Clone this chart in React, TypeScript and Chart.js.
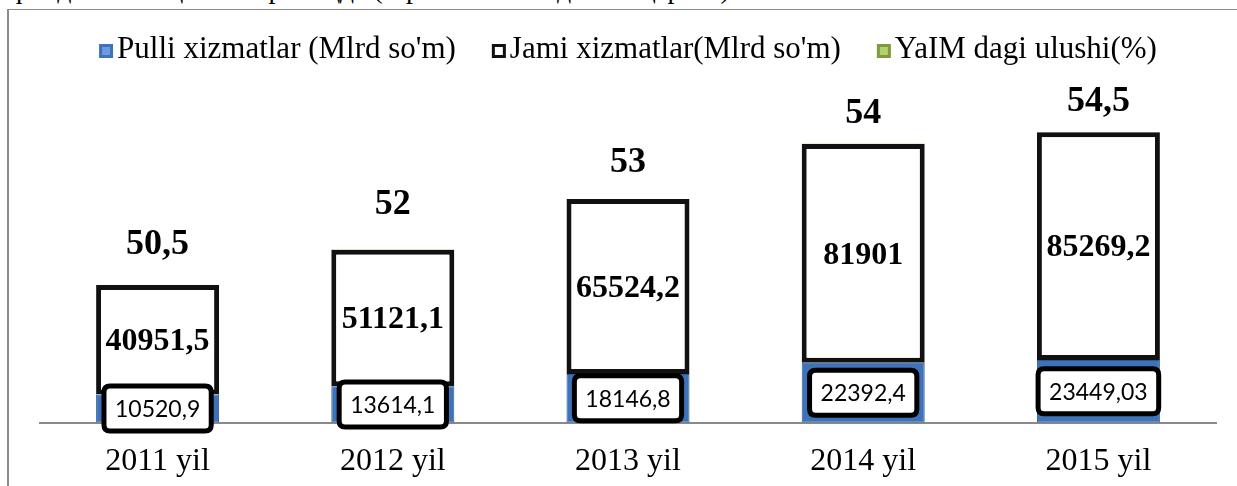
import { useEffect, useRef } from 'react';
import { Chart, registerables } from 'chart.js';

Chart.register(...registerables);

const categories = ['2011 yil', '2012 yil', '2013 yil', '2014 yil', '2015 yil'];
const pulliValues = [10520.9, 13614.1, 18146.8, 22392.4, 23449.03];
const jamiValues = [40951.5, 51121.1, 65524.2, 81901, 85269.2];
const yaimValues = [50.5, 52, 53, 54, 54.5];
const seriesNames = ['Pulli xizmatlar (Mlrd so\'m)', 'Jami xizmatlar(Mlrd so\'m)', 'YaIM dagi ulushi(%)'];
const yaimLabelOffsets = [40, 45, 36, 30, 30];

const SERIF = '"Liberation Serif", "Times New Roman", serif';
const fmt = (v: number) => String(v).replace('.', ',');

const BLUE = '#3c73bb';
const GREEN = '#9bbb59';

function roundRect(ctx: CanvasRenderingContext2D, x: number, y: number, w: number, h: number, r: number) {
  ctx.beginPath();
  ctx.moveTo(x + r, y);
  ctx.lineTo(x + w - r, y);
  ctx.quadraticCurveTo(x + w, y, x + w, y + r);
  ctx.lineTo(x + w, y + h - r);
  ctx.quadraticCurveTo(x + w, y + h, x + w - r, y + h);
  ctx.lineTo(x + r, y + h);
  ctx.quadraticCurveTo(x, y + h, x, y + h - r);
  ctx.lineTo(x, y + r);
  ctx.quadraticCurveTo(x, y, x + r, y);
  ctx.closePath();
}

const legendPlugin = {
  id: 'customLegend',
  afterDraw(chart: any) {
    const ctx: CanvasRenderingContext2D = chart.ctx;
    ctx.save();
    ctx.font = `31px ${SERIF}`;
    const box = 14;
    const gapBoxText = 4;
    const itemGap = 36;
    const widths = seriesNames.map((n) => ctx.measureText(n).width);
    const total = widths.reduce((a, b) => a + b, 0) + seriesNames.length * (box + gapBoxText) + itemGap * (seriesNames.length - 1);
    const cx = (chart.chartArea.left + chart.chartArea.right) / 2;
    let x = cx - total / 2;
    const yc = 50;
    seriesNames.forEach((name, i) => {
      const by = yc - box / 2 + 1;
      if (i === 0) {
        ctx.fillStyle = BLUE;
        ctx.fillRect(x, by, box, box);
        ctx.fillStyle = '#6b9be0';
        ctx.fillRect(x + 3, by + 3, box - 6, box - 6);
      } else if (i === 1) {
        ctx.fillStyle = '#111';
        ctx.fillRect(x, by, box, box);
        ctx.fillStyle = '#fff';
        ctx.fillRect(x + 3, by + 3, box - 6, box - 6);
      } else {
        ctx.fillStyle = '#7f9a3e';
        ctx.fillRect(x, by, box, box);
        ctx.fillStyle = '#b3d16a';
        ctx.fillRect(x + 3, by + 3, box - 6, box - 6);
      }
      ctx.fillStyle = '#000';
      ctx.textBaseline = 'middle';
      ctx.textAlign = 'left';
      ctx.fillText(name, x + box + gapBoxText, yc);
      x += box + gapBoxText + widths[i] + itemGap;
    });
    ctx.restore();
  },
};

const labelsPlugin = {
  id: 'valueLabels',
  afterDatasetsDraw(chart: any) {
    const ctx: CanvasRenderingContext2D = chart.ctx;
    ctx.save();
    ctx.textAlign = 'center';
    ctx.textBaseline = 'middle';
    // Pulli labels: boxed, sans
    chart.getDatasetMeta(0).data.forEach((el: any, i: number) => {
      const { x, y, base } = el.getProps(['x', 'y', 'base'], true);
      const cy = (y + base) / 2;
      const text = fmt(pulliValues[i]);
      ctx.font = '23px Lato, "Open Sans", sans-serif';
      const w = ctx.measureText(text).width + 22;
      const h = 45;
      roundRect(ctx, x - w / 2, cy - h / 2, w, h, 6);
      ctx.fillStyle = '#fff';
      ctx.fill();
      ctx.lineWidth = 5;
      ctx.strokeStyle = '#000';
      ctx.stroke();
      ctx.fillStyle = '#000';
      ctx.fillText(text, x, cy + 1);
    });
    // Jami labels: bold serif in centre
    chart.getDatasetMeta(1).data.forEach((el: any, i: number) => {
      const { x, y, base } = el.getProps(['x', 'y', 'base'], true);
      ctx.font = `bold 32px ${SERIF}`;
      ctx.fillStyle = '#000';
      ctx.fillText(fmt(jamiValues[i]), x, (y + base) / 2 + 2);
    });
    // YaIM labels: above the stack
    chart.getDatasetMeta(2).data.forEach((el: any, i: number) => {
      const { x, y } = el.getProps(['x', 'y'], true);
      ctx.font = `bold 36px ${SERIF}`;
      ctx.fillStyle = '#000';
      ctx.fillText(fmt(yaimValues[i]), x, y - yaimLabelOffsets[i]);
    });
    ctx.restore();
  },
};

export default function App() {
  const ref = useRef<HTMLCanvasElement | null>(null);

  useEffect(() => {
    document.body.style.margin = '0';
    const canvas = ref.current;
    if (!canvas) return;
    const chart = new Chart(canvas, {
      type: 'bar',
      data: {
        labels: categories,
        datasets: [
          {
            label: seriesNames[0],
            data: pulliValues,
            backgroundColor: BLUE,
            borderColor: '#2b5a99',
            borderWidth: 1,
            borderSkipped: false,
          },
          {
            label: seriesNames[1],
            data: jamiValues,
            backgroundColor: '#ffffff',
            borderColor: '#111111',
            borderWidth: 5,
            borderSkipped: false,
          },
          {
            label: seriesNames[2],
            data: yaimValues,
            backgroundColor: GREEN,
            borderWidth: 0,
          },
        ],
      },
      options: {
        animation: false,
        responsive: false,
        maintainAspectRatio: false,
        datasets: { bar: { barPercentage: 0.523, categoryPercentage: 1 } },
        layout: { padding: { left: 40, right: 21, top: 102, bottom: 8 } },
        plugins: { legend: { display: false }, tooltip: { enabled: false } },
        scales: {
          x: {
            stacked: true,
            grid: { display: false, drawTicks: false },
            border: { color: '#898989', width: 2 },
            ticks: { color: '#000', font: { family: SERIF, size: 32 }, padding: 20 },
          },
          y: { stacked: true, display: false, min: 0, max: 120000 },
        },
      },
      plugins: [labelsPlugin, legendPlugin],
    });
    return () => chart.destroy();
  }, []);

  return (
    <div style={{ position: 'fixed', left: 0, top: 0, width: 1237, height: 486, overflow: 'hidden', background: '#fff' }}>
      <div
        style={{
          position: 'absolute',
          left: 10,
          top: -27,
          whiteSpace: 'nowrap',
          fontFamily: SERIF,
          fontSize: 28,
          lineHeight: '32px',
          color: '#000',
        }}
      >
        фойдаланиш ҳажми ортмоқда (1-расм ва 1-жадвалга қаранг).
      </div>
      <div
        style={{
          position: 'absolute',
          left: 7,
          top: 9,
          width: 1240,
          height: 490,
          borderLeft: '2px solid #8c8c8c',
          borderTop: '1px solid #8c8c8c',
        }}
      />
      <canvas ref={ref} width={1237} height={509} style={{ position: 'absolute', left: 0, top: 0, width: 1237, height: 509 }} />
    </div>
  );
}
